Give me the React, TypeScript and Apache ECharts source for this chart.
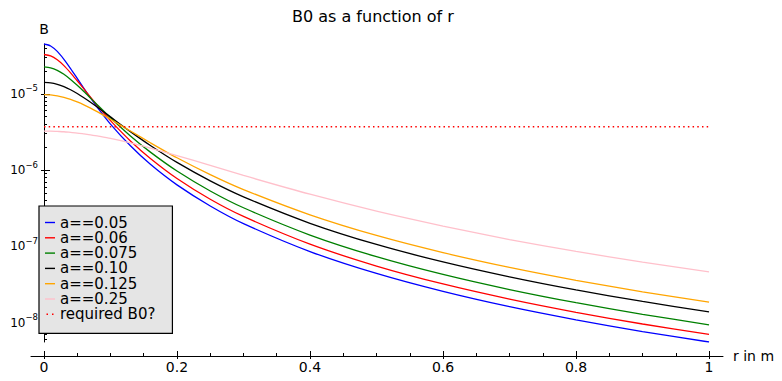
import React, { useEffect, useRef } from "react";
import * as echarts from "echarts";

// r in m
const rValues = [0, 0.01, 0.02, 0.03, 0.04, 0.05, 0.06, 0.07, 0.08, 0.1, 0.13, 0.16, 0.2, 0.25, 0.3, 0.4, 0.5, 0.6, 0.7, 0.8, 0.9, 1.0];

// B values (log scale)
const bA005 = [4.49e-5, 4.23e-5, 3.59e-5, 2.83e-5, 2.14e-5, 1.59e-5, 1.18e-5, 8.81e-6, 6.68e-6, 4.01e-6, 2.08e-6, 1.19e-6, 6.40e-7, 3.39e-7, 1.99e-7, 8.56e-8, 4.42e-8, 2.57e-8, 1.62e-8, 1.09e-8, 7.66e-9, 5.59e-9];
const bA006 = [3.27e-5, 3.14e-5, 2.79e-5, 2.34e-5, 1.88e-5, 1.48e-5, 1.16e-5, 9.01e-6, 7.06e-6, 4.45e-6, 2.41e-6, 1.42e-6, 7.76e-7, 4.15e-7, 2.47e-7, 1.07e-7, 5.53e-8, 3.22e-8, 2.04e-8, 1.37e-8, 9.62e-9, 7.02e-9];
const bA0075 = [2.25e-5, 2.19e-5, 2.03e-5, 1.80e-5, 1.54e-5, 1.29e-5, 1.07e-5, 8.78e-6, 7.19e-6, 4.85e-6, 2.80e-6, 1.72e-6, 9.73e-7, 5.33e-7, 3.21e-7, 1.41e-7, 7.34e-8, 4.29e-8, 2.72e-8, 1.83e-8, 1.29e-8, 9.40e-9];
const bA010 = [1.41e-5, 1.39e-5, 1.33e-5, 1.24e-5, 1.13e-5, 1.01e-5, 8.88e-6, 7.75e-6, 6.71e-6, 4.98e-6, 3.19e-6, 2.10e-6, 1.26e-6, 7.22e-7, 4.46e-7, 2.01e-7, 1.06e-7, 6.26e-8, 3.99e-8, 2.69e-8, 1.90e-8, 1.39e-8];
const bA0125 = [9.75e-6, 9.66e-6, 9.39e-6, 8.97e-6, 8.43e-6, 7.81e-6, 7.15e-6, 6.48e-6, 5.83e-6, 4.64e-6, 3.25e-6, 2.28e-6, 1.45e-6, 8.72e-7, 5.55e-7, 2.59e-7, 1.39e-7, 8.28e-8, 5.30e-8, 3.59e-8, 2.54e-8, 1.86e-8];
const bA025 = [3.25e-6, 3.24e-6, 3.21e-6, 3.18e-6, 3.12e-6, 3.06e-6, 2.98e-6, 2.90e-6, 2.80e-6, 2.60e-6, 2.27e-6, 1.94e-6, 1.55e-6, 1.15e-6, 8.51e-7, 4.83e-7, 2.90e-7, 1.85e-7, 1.23e-7, 8.61e-8, 6.22e-8, 4.63e-8];

const requiredR = [0, 1];
const requiredB0 = [3.7e-6, 3.7e-6];

const seriesNames = ["a==0.05", "a==0.06", "a==0.075", "a==0.10", "a==0.125", "a==0.25"];
const seriesValues = [bA005, bA006, bA0075, bA010, bA0125, bA025];
const seriesColors = ["#0000ff", "#ff0000", "#008000", "#000000", "#ffa500", "#ffc0cb"];
const requiredName = "required B0?";

const xMajorTicks = [0, 0.2, 0.4, 0.6, 0.8, 1];
const xMinorTicks = [0.05, 0.1, 0.15, 0.25, 0.3, 0.35, 0.45, 0.5, 0.55, 0.65, 0.7, 0.75, 0.85, 0.9, 0.95];
const yMajorTicks = [1e-8, 1e-7, 1e-6, 1e-5];
const yMinorTicks = [
  6e-9, 7e-9, 8e-9, 9e-9,
  2e-8, 3e-8, 4e-8, 5e-8, 6e-8, 7e-8, 8e-8, 9e-8,
  2e-7, 3e-7, 4e-7, 5e-7, 6e-7, 7e-7, 8e-7, 9e-7,
  2e-6, 3e-6, 4e-6, 5e-6, 6e-6, 7e-6, 8e-6, 9e-6,
  2e-5, 3e-5, 4e-5,
];

const X_MIN = -0.0195;
const X_MAX = 1.021;
const Y_MIN = 5.59e-9;
const Y_MAX = 4.49e-5;

const FONT = "DejaVu Sans";

export default function App() {
  const ref = useRef<HTMLDivElement>(null);

  useEffect(() => {
    document.body.style.margin = "0";
    if (!ref.current) return;
    const chart = echarts.init(ref.current, undefined, { renderer: "svg" });

    const axisColor = "#000";
    const xBase = {
      type: "value",
      min: X_MIN,
      max: X_MAX,
      position: "bottom",
      offset: 14,
      splitLine: { show: false },
    };
    const yBase = {
      type: "log",
      logBase: 10,
      min: Y_MIN,
      max: Y_MAX,
      position: "left",
      offset: -13,
      splitLine: { show: false },
    };

    const series: any[] = seriesNames.map((name, i) => ({
      name,
      type: "line",
      xAxisIndex: 0,
      yAxisIndex: 0,
      data: rValues.map((r, j) => [r, seriesValues[i][j]]),
      symbol: "none",
      showSymbol: false,
      smooth: 0.25,
      lineStyle: { color: seriesColors[i], width: 1.3 },
      itemStyle: { color: seriesColors[i] },
    }));
    series.push({
      name: requiredName,
      type: "line",
      xAxisIndex: 0,
      yAxisIndex: 0,
      data: requiredR.map((r, j) => [r, requiredB0[j]]),
      symbol: "none",
      showSymbol: false,
      lineStyle: { color: "#ff0000", width: 1.5, type: [1.5, 3.2] },
      itemStyle: { color: "#ff0000" },
    });

    const legendData: any[] = seriesNames.map((name) => ({ name, icon: "rect" }));
    legendData.push({
      name: requiredName,
      icon: "path://M0,0h1.5v1.4h-1.5z M5.5,0h1.5v1.4h-1.5z",
    });

    chart.setOption({
      animation: false,
      textStyle: { fontFamily: FONT },
      title: {
        text: "B0 as a function of r",
        left: 292,
        top: 8,
        padding: 0,
        textStyle: { fontSize: 16, fontWeight: "normal", color: "#000", fontFamily: FONT },
      },
      grid: {
        left: 31,
        right: 59,
        top: 44,
        bottom: 39,
        containLabel: false,
        outerBoundsMode: "none",
      },
      legend: {
        orient: "vertical",
        left: 39,
        top: 206,
        padding: [9, 17, 11.5, 6],
        itemWidth: 10,
        itemHeight: 1.4,
        itemGap: 0.3,
        symbolKeepAspect: true,
        backgroundColor: "#e5e5e5",
        borderColor: "#000",
        borderWidth: 1.2,
        borderRadius: 0,
        textStyle: { fontSize: 15, lineHeight: 15, color: "#000", fontFamily: FONT },
        data: legendData,
      },
      xAxis: [
        {
          ...xBase,
          axisLine: { show: true, onZero: false, lineStyle: { color: axisColor, width: 1 } },
          axisTick: { show: true, inside: true, length: 5, customValues: xMajorTicks, lineStyle: { color: axisColor, width: 1 } },
          axisLabel: { show: true, customValues: xMajorTicks, margin: 4, fontSize: 14, color: "#000", fontFamily: FONT },
          name: "r in m",
          nameLocation: "end",
          nameGap: 10,
          nameTextStyle: { fontSize: 14, color: "#000", fontFamily: FONT, padding: [0, 0, 14, 0] },
        },
        {
          ...xBase,
          axisLine: { show: false, onZero: false },
          axisTick: { show: true, inside: false, length: 3, customValues: xMajorTicks, lineStyle: { color: axisColor, width: 1 } },
          axisLabel: { show: false },
        },
        {
          ...xBase,
          axisLine: { show: false, onZero: false },
          axisTick: { show: true, inside: true, length: 3, customValues: xMinorTicks, lineStyle: { color: axisColor, width: 1 } },
          axisLabel: { show: false },
        },
      ],
      yAxis: [
        {
          ...yBase,
          axisLine: { show: true, onZero: false, lineStyle: { color: axisColor, width: 1 } },
          axisTick: { show: true, inside: true, length: 6, customValues: yMajorTicks, lineStyle: { color: axisColor, width: 1 } },
          axisLabel: {
            show: true,
            customValues: yMajorTicks,
            margin: 6,
            color: "#000",
            formatter: (v: number) => {
              const e = Math.round(Math.log10(v));
              const sign = e < 0 ? "\u2212" : "";
              return "{b|10}{s|" + sign + Math.abs(e) + "}";
            },
            rich: {
              b: { fontSize: 12, lineHeight: 20, fontFamily: FONT, color: "#000" },
              s: { fontSize: 8.5, lineHeight: 10, verticalAlign: "top", fontFamily: FONT, color: "#000" },
            },
          },
          name: "B",
          nameLocation: "end",
          nameGap: 8,
          nameTextStyle: { fontSize: 14, color: "#000", fontFamily: FONT },
        },
        {
          ...yBase,
          axisLine: { show: false, onZero: false },
          axisTick: { show: true, inside: false, length: 3, customValues: yMajorTicks, lineStyle: { color: axisColor, width: 1 } },
          axisLabel: { show: false },
        },
        {
          ...yBase,
          axisLine: { show: false, onZero: false },
          axisTick: { show: true, inside: true, length: 3, customValues: yMinorTicks, lineStyle: { color: axisColor, width: 1 } },
          axisLabel: { show: false },
        },
      ],
      series,
    });

    return () => {
      chart.dispose();
    };
  }, []);

  return <div ref={ref} style={{ width: 782, height: 381 }} />;
}
